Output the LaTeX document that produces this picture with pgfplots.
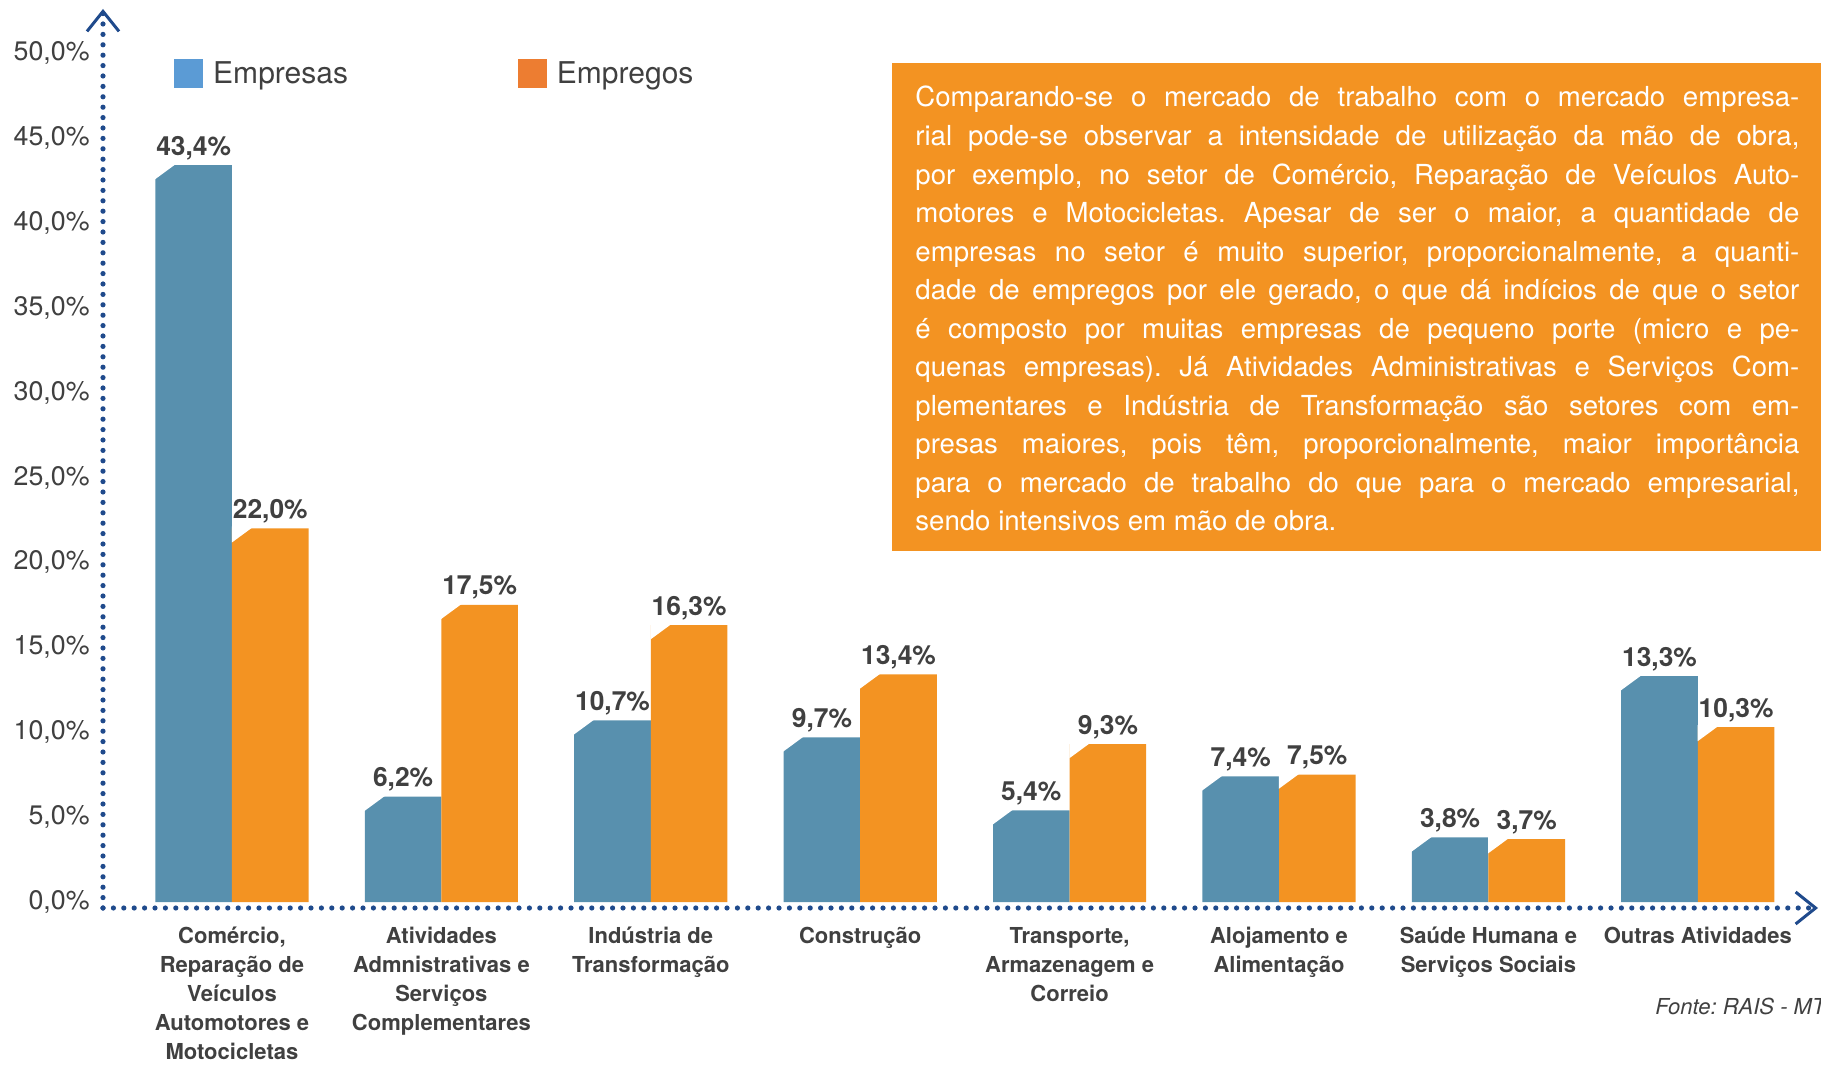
\documentclass[border=0pt]{standalone}
\usepackage{fontspec}
\setmainfont{TeX Gyre Heros}
\usepackage{pgfplots}
\pgfplotsset{compat=1.18}
\usetikzlibrary{arrows.meta}
\definecolor{barblue}{HTML}{5890AE}
\definecolor{barorange}{HTML}{F39322}
\definecolor{legblue}{HTML}{5B9BD5}
\definecolor{legorange}{HTML}{ED7D31}
\definecolor{textgray}{HTML}{404040}
\definecolor{axisblue}{HTML}{1F4A8C}
\definecolor{boxorange}{HTML}{F39322}
% chamfer for the left bar of a group (bar spans -38.3pt..0pt from group centre)
\pgfdeclareplotmark{chamferL}{%
  \pgfpathmoveto{\pgfqpoint{-38.6pt}{1pt}}%
  \pgfpathlineto{\pgfqpoint{-27.4pt}{1pt}}%
  \pgfpathlineto{\pgfqpoint{-38.6pt}{-7.22pt}}%
  \pgfpathclose
  \pgfusepathqfill}
% chamfer for the right bar of a group (bar spans 0pt..38.3pt from group centre)
\pgfdeclareplotmark{chamferR}{%
  \pgfpathmoveto{\pgfqpoint{-0.1pt}{1pt}}%
  \pgfpathlineto{\pgfqpoint{10.9pt}{1pt}}%
  \pgfpathlineto{\pgfqpoint{-0.1pt}{-7.07pt}}%
  \pgfpathclose
  \pgfusepathqfill}
\frenchspacing
\begin{document}
\begin{tikzpicture}
\path[use as bounding box] (0,0) rectangle (910.5pt,533pt);
\begin{axis}[
  at={(51.5pt,79pt)}, anchor=south west,
  scale only axis, width=857.5pt, height=449.5pt,
  xmin=-0.616, xmax=7.574, ymin=-0.353, ymax=52.59,
  clip=false,
  axis lines=left,
  axis line style={draw=axisblue, line width=2.6pt, dash pattern=on 0pt off 5.2pt, line cap=round,
    -{Straight Barb[length=10pt, width=16pt, line width=1.5pt, line cap=butt, line join=miter]}},
  ytick={0,5,...,50},
  xtick={0,...,7},
  major tick length=0pt,
  tick style={draw=none},
  /pgf/number format/assume math mode=true,
  yticklabel={\pgfmathprintnumber[fixed,fixed zerofill,precision=1,use comma]{\tick}\%},
  yticklabel style={font=\fontsize{13.4}{16}\selectfont, text=textgray, anchor=east, inner sep=0pt, xshift=-6.5pt},
  typeset ticklabels with strut,
  xticklabels={{Comércio,\\Reparação de\\Veículos\\Automotores e\\Motocicletas},
    {Atividades\\Admnistrativas e\\Serviços\\Complementares},
    {Indústria de\\Transformação},
    {Construção},
    {Transporte,\\Armazenagem e\\Correio},
    {Alojamento e\\Alimentação},
    {Saúde Humana e\\Serviços Sociais},
    {Outras Atividades}},
  xticklabel style={font=\fontsize{11}{14.5}\selectfont\bfseries, text=textgray, align=center, anchor=north, inner sep=0pt, yshift=-7.3pt},
  ybar, bar width=38.3pt,
  nodes near coords={\pgfmathprintnumber[fixed,fixed zerofill,precision=1,use comma]{\pgfplotspointmeta}\%},
  nodes near coords style={font=\fontsize{13.2}{15}\selectfont\bfseries, text=textgray, anchor=base, inner sep=0pt, yshift=5pt},
  legend columns=2,
  legend style={draw=none, fill=none, at={(0.0414,0.928)}, anchor=west, inner sep=0pt,
    font=\fontsize{15}{18}\selectfont, text=textgray,
    /tikz/every even column/.append style={column sep=83pt}},
]
\addplot[ybar, bar shift=-19.15pt, fill=barblue, draw=none, mark=chamferL, mark options={fill=white, draw=none},
  legend image code/.code={\fill[legblue] (0pt,-7.25pt) rectangle (14.5pt,7.25pt); \path (17.4pt,0pt);}]
  coordinates {(0,43.4) (1,6.2) (2,10.7) (3,9.7) (4,5.4) (5,7.4) (6,3.8) (7,13.3)};
\addlegendentry{Empresas}
\addplot[ybar, bar shift=19.15pt, fill=barorange, draw=none, mark=chamferR, mark options={fill=white, draw=none},
  legend image code/.code={\fill[legorange] (0pt,-7.25pt) rectangle (14.5pt,7.25pt); \path (17.4pt,0pt);}]
  coordinates {(0,22.0) (1,17.5) (2,16.3) (3,13.4) (4,9.3) (5,7.5) (6,3.7) (7,10.3)};
\addlegendentry{Empregos}
\end{axis}
\fill[boxorange] (446pt,257.5pt) rectangle (915pt,501.5pt);
\node[anchor=base west, inner sep=0pt, text=white] at (457.5pt,479.5pt) {\parbox[t]{442pt}{\fontsize{13.8}{19.27}\selectfont
\makebox[442pt][s]{Comparando-se o mercado de trabalho com o mercado empresa-}\par
\makebox[442pt][s]{rial pode-se observar a intensidade de utilização da mão de obra,}\par
\makebox[442pt][s]{por exemplo, no setor de Comércio, Reparação de Veículos Auto-}\par
\makebox[442pt][s]{motores e Motocicletas. Apesar de ser o maior, a quantidade de}\par
\makebox[442pt][s]{empresas no setor é muito superior, proporcionalmente, a quanti-}\par
\makebox[442pt][s]{dade de empregos por ele gerado, o que dá indícios de que o setor}\par
\makebox[442pt][s]{é composto por muitas empresas de pequeno porte (micro e pe-}\par
\makebox[442pt][s]{quenas empresas). Já Atividades Administrativas e Serviços Com-}\par
\makebox[442pt][s]{plementares e Indústria de Transformação são setores com em-}\par
\makebox[442pt][s]{presas maiores, pois têm, proporcionalmente, maior importância}\par
\makebox[442pt][s]{para o mercado de trabalho do que para o mercado empresarial,}\par
\makebox[442pt][l]{sendo intensivos em mão de obra.}}};
\node[anchor=base west, inner sep=0pt, text=textgray, font=\fontsize{11}{13}\selectfont\itshape] at (827.5pt,26pt) {Fonte: RAIS - MTE};
\end{tikzpicture}
\end{document}
